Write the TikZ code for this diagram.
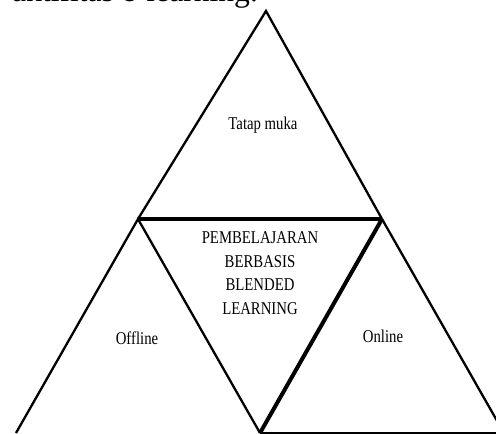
\documentclass[tikz,border=0pt]{standalone}
\usepackage{fontspec}
\setmainfont{Liberation Serif}
\newfontfamily\narrowserif[FakeStretch=0.82]{Liberation Serif}
\usepackage{tikz}
\usetikzlibrary{positioning}

\begin{document}
\begin{tikzpicture}[x=1pt, y=-1pt,
    edgeline/.style={line width=2.3pt},
    boldline/.style={line width=4pt},
    labeltext/.style={font=\narrowserif\fontsize{18}{23.5}\selectfont, align=center, inner sep=0pt}]
    \useasboundingbox (0,0) rectangle (496,434);

    % Corners
    \coordinate (apex) at (266,11);
    \coordinate (midL) at (138,219);
    \coordinate (midR) at (382,219);
    \coordinate (botL) at (16,433);
    \coordinate (botC) at (260,433);
    \coordinate (botR) at (504,433);
    \coordinate (baseR) at (496,433);

    % Nodes
    \node[anchor=base west, inner sep=0pt, font=\fontsize{31.6}{36}\selectfont] (caption) at (12,1) {aktifitas e-learning.};
    \node[labeltext] (tatap) at (263,125) {Tatap muka};
    \node[labeltext] (blended) at (260,273) {PEMBELAJARAN\\BERBASIS\\BLENDED\\LEARNING};
    \node[labeltext] (offline) at (137,338) {Offline};
    \node[labeltext] (online) at (383,336) {Online};

    % Paths
    \draw[edgeline] (midL) -- (apex) -- (midR);
    \draw[boldline] (midL) -- (midR);
    \draw[edgeline] (botL) -- (midL) -- (botC);
    \draw[boldline] (botC) -- (midR);
    \draw[edgeline] (midR) -- (botR);
    \draw[line width=1.8pt] (botC) -- (baseR);
\end{tikzpicture}
\end{document}
